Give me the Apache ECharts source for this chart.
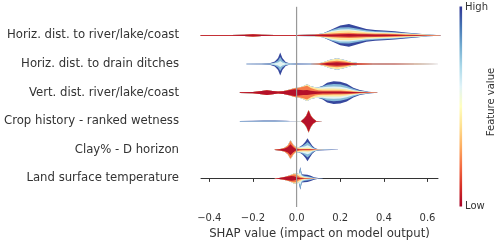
<!DOCTYPE html>
<html><head><meta charset="utf-8">
<script src="https://cdn.jsdelivr.net/npm/echarts@6/dist/echarts.min.js"></script>
<style>html,body{margin:0;padding:0;background:#fff}#c{width:500px;height:241px}</style>
</head><body><div id="c"></div>
<script>
// Feature names, top to bottom
const featureNames = [
  'Horiz. dist. to river/lake/coast',
  'Horiz. dist. to drain ditches',
  'Vert. dist. river/lake/coast',
  'Crop history - ranked wetness',
  'Clay% - D horizon',
  'Land surface temperature'
];
const xTicks = [-0.4, -0.2, 0.0, 0.2, 0.4, 0.6];
// Layer colours: low feature value (inner) -> high feature value (outer), RdYlBu
const layerColors = ['#b5112a', '#f67c4a', '#fee79a', '#e3f4f3', '#86bbd9', '#36479e'];
const colorbarStops = ['#a50026','#d73027','#f46d43','#fdae61','#fee090','#ffffbf','#e0f3f8','#abd9e9','#74add1','#4575b4','#313695'];

// Per-feature SHAP grid and per-layer density thickness (layer 0 = lowest feature values)
const riverGrid = [-0.44,-0.3,-0.24,-0.2,-0.16,-0.1,0,0.08,0.12,0.16,0.2,0.24,0.28,0.32,0.36,0.4,0.45,0.5,0.55,0.6,0.66];
const riverLayers = [
  [0.3,0.35,0.6,1.2,0.6,0.35,0.4,0.55,0.8,1.0,1.2,1.3,1.2,1.1,1.0,0.9,0.7,0.45,0.3,0.15,0.05],
  [0,0.02,0.05,0.05,0.05,0.03,0.05,0.15,0.5,1.0,1.3,1.3,1.1,0.8,0.7,0.7,0.6,0.5,0.35,0.2,0.05],
  [0,0,0,0,0,0,0.02,0.05,0.4,1.5,2.2,2.3,1.9,1.3,1.1,0.9,0.8,0.6,0.45,0.2,0.05],
  [0,0,0,0,0,0,0.01,0.02,0.15,1.0,1.4,1.3,1.0,0.8,0.6,0.6,0.5,0.4,0.3,0.12,0.03],
  [0,0,0,0,0,0,0.01,0.02,0.1,0.9,1.9,2.0,1.6,1.1,0.9,0.8,0.7,0.55,0.35,0.15,0.05],
  [0,0.03,0.05,0.05,0.05,0.02,0.01,0.01,0.05,0.6,2.0,3.4,2.2,1.4,1.2,1.1,0.8,0.55,0.3,0.1,0.02]
];
const ditchGrid = [-0.23,-0.16,-0.12,-0.1,-0.085,-0.075,-0.065,-0.05,-0.03,0,0.06,0.1,0.12,0.15,0.185,0.22,0.25,0.28,0.35,0.45,0.55,0.66];
const ditchLayers = [
  [0,0,0,0,0,0,0,0,0,0,0.05,0.2,0.6,1.3,1.8,1.3,0.7,0.4,0.2,0.15,0.1,0.05],
  [0,0,0,0,0,0,0,0,0,0,0.02,0.1,0.4,1.1,1.5,1.1,0.6,0.3,0.1,0.05,0.03,0.02],
  [0,0,0,0,0,0.0,0,0,0,0.02,0.03,0.1,0.4,1.3,2.0,1.4,0.5,0.15,0.05,0.03,0.02,0.02],
  [0.1,0.15,0.3,0.7,1.6,3,1.6,0.6,0.2,0.1,0.1,0.1,0.1,0.3,0.4,0.2,0.1,0.05,0.05,0.02,0,0],
  [0.1,0.15,0.3,0.8,2,4,2,0.7,0.2,0.15,0.15,0.1,0,0,0,0,0,0,0,0,0,0],
  [0.1,0.1,0.4,1,2.4,4.5,2.4,0.7,0.2,0.13,0.1,0.1,0,0,0,0,0,0,0,0,0,0]
];
const vertGrid = [-0.26,-0.2,-0.16,-0.136,-0.11,-0.085,-0.06,-0.03,-0.01,0.01,0.03,0.048,0.065,0.085,0.1,0.12,0.14,0.17,0.2,0.23,0.26,0.29,0.33,0.37];
const vertLayers = [
  [0.3,0.6,1.6,2.3,1.6,1,1.4,2.6,3.3,2.8,2.3,2.5,1.8,1.3,1.1,1,1,1,1,0.8,0.6,0.4,0.2,0.1],
  [0,0,0,0,0,0,0.1,0.4,1.1,2.0,3.5,4.5,2.8,1.7,1.3,1.2,1.2,1,1,0.8,0.5,0.3,0.1,0.02],
  [0,0,0,0,0,0,0,0,0.1,0.2,0.6,1.2,1.5,2,1.8,1.6,1.8,2,1.8,1.4,0.7,0.3,0.1,0.02],
  [0,0,0,0,0,0,0,0,0,0,0.1,0.3,0.4,0.5,1,1.5,2,2.2,2.1,1.7,0.9,0.4,0.1,0.02],
  [0,0,0,0,0,0,0,0,0,0,0,0,0,0,0.2,1,2,2.5,2.4,2,1.1,0.5,0.15,0.02],
  [0,0,0,0,0,0,0,0,0,0,0,0,0,0,0.1,0.7,2,2.8,2.7,2.3,1.2,0.6,0.15,0.02]
];
const cropGrid = [-0.26,-0.2,-0.15,-0.1,-0.05,-0.03,0.02,0.035,0.045,0.055,0.065,0.075,0.09,0.12];
const cropLayers = [
  [0,0,0,0,0,0,0.05,2.6,5.5,10.8,5.5,2.6,0.2,0.02],
  [0,0,0,0,0,0,0.02,0.3,0.4,0.5,0.4,0.3,0.08,0.02],
  [0,0,0,0,0,0,0.01,0.1,0.1,0.2,0.1,0.1,0.02,0.01],
  [0.05,0.1,0.1,0.1,0.1,0.02,0,0,0,0,0,0,0,0],
  [0.15,0.2,0.25,0.25,0.15,0.04,0,0,0,0,0,0,0,0],
  [0.1,0.2,0.25,0.25,0.15,0.04,0,0,0,0,0,0,0,0]
];
const clayGrid = [-0.1,-0.075,-0.055,-0.04,-0.028,-0.015,-0.005,0.005,0.015,0.028,0.04,0.05,0.06,0.072,0.085,0.1,0.13,0.16,0.19];
const clayLayers = [
  [0.15,0.6,1.4,2.8,5.5,2.5,1,0.5,0.3,0.3,0.3,0.3,0.3,0.2,0.1,0.05,0,0,0],
  [0.05,0.2,0.6,1.6,3.5,2,1.2,0.8,0.6,0.5,0.5,0.5,0.5,0.3,0.1,0.05,0,0,0],
  [0,0,0,0.1,0.5,0.5,0.8,1.0,1.0,1.0,1.0,1.2,1.0,0.5,0.2,0.05,0,0,0],
  [0,0,0,0,0,0,0,0.2,0.5,1.2,1.8,2.5,1.8,0.8,0.3,0.1,0.1,0.05,0],
  [0,0,0,0,0,0,0,0,0.4,1.0,2.2,3.3,2.2,1.1,0.4,0.15,0.1,0.1,0.05],
  [0,0,0,0,0,0,0,0,0.2,1.0,2.2,3.7,2.2,1.1,0.4,0.2,0.2,0.15,0.05]
];
const lstGrid = [-0.1,-0.08,-0.06,-0.04,-0.025,-0.012,0,0.01,0.017,0.024,0.035,0.05,0.065,0.08,0.1,0.12];
const lstLayers = [
  [0.1,0.5,1.1,1.8,2.2,2.0,1.2,0.6,0.4,0.3,0.2,0.1,0.05,0,0,0],
  [0,0,0.1,0.4,1.1,2.0,2.2,1.4,0.8,0.5,0.3,0.2,0.1,0.05,0,0],
  [0,0,0,0,0.2,0.8,1.4,1.4,1.5,0.8,0.5,0.3,0.2,0.1,0,0],
  [0,0,0,0,0,0,0.2,0.5,3.3,1.0,0.6,0.5,0.3,0.1,0.05,0],
  [0,0,0,0,0,0,0,0.1,4.5,0.9,1.0,1.0,0.8,0.4,0.15,0.05],
  [0,0,0,0,0,0,0,0,0.5,0.5,1.2,1.4,1.05,0.55,0.2,0.05]
];

const grids = [riverGrid, ditchGrid, vertGrid, cropGrid, clayGrid, lstGrid];
const layerSets = [riverLayers, ditchLayers, vertLayers, cropLayers, clayLayers, lstLayers];
const nF = featureNames.length;
const nL = layerColors.length;

// cumulative stacks
const cumSets = layerSets.map(layers => {
  const cum = [];
  layers.forEach((row, i) => {
    cum.push(row.map((v, k) => v + (i > 0 ? cum[i - 1][k] : 0)));
  });
  return cum;
});
const scales = cumSets.map(cum => 0.4 / Math.max.apply(null, cum[cum.length - 1]));

const violinData = [];
for (let f = 0; f < nF; f++) {
  for (let l = nL - 1; l >= 0; l--) violinData.push([f, l]);
}

function renderViolin(params, api) {
  const f = api.value(0), l = api.value(1);
  const g = grids[f], cum = cumSets[f][l], s = scales[f];
  const pos = nF - 1 - f;
  const pts = [];
  for (let k = 0; k < g.length; k++) pts.push(api.coord([g[k], pos + cum[k] * s]));
  for (let k = g.length - 1; k >= 0; k--) pts.push(api.coord([g[k], pos - cum[k] * s]));
  return {
    type: 'polygon',
    shape: { points: pts },
    style: { fill: layerColors[l], stroke: null }
  };
}

const chart = echarts.init(document.getElementById('c'), null, { renderer: 'canvas' });
const font = 'DejaVu Sans';
chart.setOption({
  animation: false,
  backgroundColor: '#ffffff',
  grid: { left: 201, right: 62, top: 6.8, bottom: 34, containLabel: false, outerBoundsMode: 'none' },
  xAxis: {
    type: 'value', min: -0.438, max: 0.648,
    axisLine: { show: true, lineStyle: { color: '#333333', width: 1 } },
    axisTick: { show: true, length: 3.5, customValues: xTicks, lineStyle: { color: '#333333' } },
    axisLabel: { customValues: xTicks, margin: 6, fontSize: 10, color: '#333333', fontFamily: font,
      formatter: v => v.toFixed(1).replace('-', '\u2212') },
    splitLine: { show: false },
    name: 'SHAP value (impact on model output)', nameLocation: 'middle', nameGap: 17,
    nameTextStyle: { fontSize: 11.7, color: '#333333', fontFamily: font }
  },
  yAxis: {
    type: 'value', min: -1, max: 6, interval: 1,
    axisLine: { show: false }, axisTick: { show: false }, splitLine: { show: false },
    axisLabel: { margin: 22, fontSize: 11.7, color: '#333333', fontFamily: font,
      formatter: v => (v >= 0 && v <= nF - 1) ? featureNames[nF - 1 - v] : '' }
  },
  series: [
    {
      type: 'custom', renderItem: renderViolin, data: violinData,
      encode: { x: 0, y: 1 }, clip: false, silent: true, z: 2
    },
    {
      type: 'line', data: [[0, -1], [0, 6]], symbol: 'none', silent: true, z: 3,
      lineStyle: { color: '#999999', width: 1.2 }
    }
  ],
  graphic: [
    { type: 'rect', shape: { x: 459.5, y: 6.5, width: 2.6, height: 200 },
      style: { fill: new echarts.graphic.LinearGradient(0, 1, 0, 0,
        colorbarStops.map((c, i) => ({ offset: i / (colorbarStops.length - 1), color: c }))) } },
    { type: 'text', x: 465, y: 7, style: { text: 'High', fontSize: 10, fill: '#333333', fontFamily: font, verticalAlign: 'middle' } },
    { type: 'text', x: 465, y: 206.5, style: { text: 'Low', fontSize: 10, fill: '#333333', fontFamily: font, verticalAlign: 'middle' } },
    { type: 'text', x: 491.7, y: 102, rotation: Math.PI / 2,
      style: { text: 'Feature value', fontSize: 10, fill: '#333333', fontFamily: font, align: 'center', verticalAlign: 'middle' } }
  ]
});
</script></body></html>
